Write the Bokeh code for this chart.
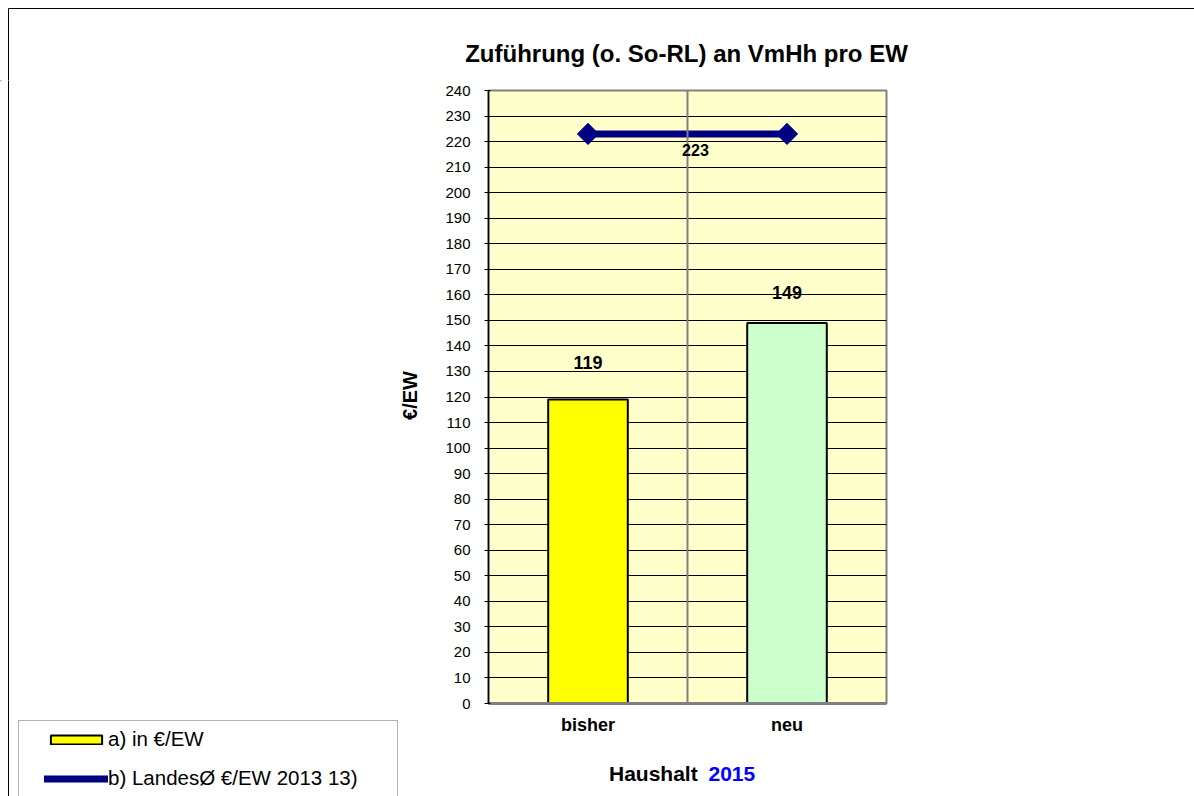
from bokeh.plotting import figure
from bokeh.layouts import row, column
from bokeh.models import (FactorRange, Range1d, Label, Span, BoxAnnotation, Legend,
                          LegendItem, FixedTicker, ColumnDataSource)
from bokeh.embed import file_html
from bokeh.resources import INLINE
import math

# ---- data ----
categories = ["bisher", "neu"]
values = [119, 149]
bar_colors = ["#FFFF00", "#CCFFCC"]
landes_avg = [223, 223]
y_ticks = list(range(0, 250, 10))
title_text = "Zuführung (o. So-RL) an VmHh pro EW"
y_title = "€/EW"
x_title_a = "Haushalt "
x_title_b = "2015"
legend_a = "a) in €/EW"
legend_b = "b) LandesØ €/EW 2013 13)"

FONT = "Liberation Sans"
NAVY = "#000080"

TOTAL_W, TOTAL_H = 1194, 796
LEFT_W = 440
TOP_H = 80
MAIN_W = TOTAL_W - LEFT_W
BOTTOM_H = 53
MAIN_H = TOTAL_H - TOP_H - BOTTOM_H      # 663
FRAME_L, FRAME_W = 48, 398                # inside the main figure
FRAME_R = MAIN_W - FRAME_L - FRAME_W


def strip(x0, x1, y0, y1, **kw):
    """Blank figure whose data coordinates are page pixels."""
    f = figure(x_range=Range1d(x0, x1), y_range=Range1d(y1, y0),
               x_axis_location=None, y_axis_location=None,
               output_backend="svg", toolbar_location=None,
               background_fill_color="white", border_fill_color="white", **kw)
    f.outline_line_color = None
    f.grid.visible = False
    return f


# ---------- top strip: outer frame + title ----------
top = strip(0, TOTAL_W, 0, TOP_H, width=TOTAL_W, height=TOP_H, min_border=0)
top.segment(x0=[8, 8], y0=[8, 8], x1=[TOTAL_W + 20, 8], y1=[8, TOP_H + 20],
            line_color="black", line_width=1)
top.add_layout(Label(x=686, y=53, text=title_text, text_align="center",
                     text_baseline="middle", text_font=FONT, text_font_size="24px",
                     text_font_style="bold", text_color="black"))

# ---------- left strip: outer frame, y title, legend ----------
left = strip(0, LEFT_W, TOP_H, TOTAL_H, width=LEFT_W, height=TOTAL_H - TOP_H, min_border=0)
left.segment(x0=[8], y0=[TOP_H - 20], x1=[8], y1=[TOTAL_H + 20],
             line_color="black", line_width=1)
left.add_layout(BoxAnnotation(left=18, right=397, top=720, bottom=TOTAL_H + 50,
                              fill_color="white", fill_alpha=1,
                              line_color="black", line_width=1))
left.add_layout(Label(x=409, y=395, text=y_title, angle=math.pi / 2,
                      text_align="center", text_baseline="middle", text_font=FONT,
                      text_font_size="20px", text_font_style="bold", text_color="black"))
# legend-only renderers (placed far outside the visible range)
lg_bar = left.vbar(x=[-5000], top=[-5000], bottom=[-5001], width=1,
                   fill_color=bar_colors[0], line_color="black", line_width=2)
lg_line = left.line(x=[-5000, -4999], y=[-5000, -5000], line_color=NAVY, line_width=7,
                    line_cap="round")
lg_mark = left.scatter(x=[-5000], y=[-5000], marker="diamond", size=8,
                       fill_color=NAVY, line_color=NAVY)
legend = Legend(items=[LegendItem(label=legend_a, renderers=[lg_bar]),
                       LegendItem(label=legend_b, renderers=[lg_line, lg_mark])],
                location=(44, 6), padding=0, margin=0, spacing=15,
                glyph_width=64, glyph_height=11, label_height=20, label_standoff=0,
                label_text_font=FONT, label_text_font_size="20.5px",
                label_text_color="black", border_line_color=None,
                background_fill_alpha=0)
left.add_layout(legend, "center")

# ---------- main chart ----------
p = figure(x_range=FactorRange(*categories), y_range=Range1d(0, 240),
           frame_width=FRAME_W, frame_height=613,
           min_border_left=FRAME_L, min_border_right=FRAME_R,
           min_border_top=10, min_border_bottom=MAIN_H - 10 - 613,
           output_backend="svg", toolbar_location=None,
           background_fill_color="#FFFFCC", border_fill_color="white")
p.outline_line_color = "#808080"
p.outline_line_width = 2

p.xgrid.grid_line_color = None
p.ygrid.ticker = FixedTicker(ticks=y_ticks)
p.ygrid.grid_line_color = "black"
p.ygrid.grid_line_width = 1

p.yaxis.ticker = FixedTicker(ticks=y_ticks)
p.yaxis.axis_line_color = "black"
p.yaxis.axis_line_width = 1.5
p.yaxis.major_tick_out = 4
p.yaxis.major_tick_in = 2
p.yaxis.major_tick_line_color = "black"
p.yaxis.minor_tick_line_color = None
p.yaxis.major_label_text_font = FONT
p.yaxis.major_label_text_font_size = "15px"
p.yaxis.major_label_text_color = "black"
p.yaxis.major_label_standoff = 14

p.xaxis.axis_line_color = "#808080"
p.xaxis.axis_line_width = 3
p.xaxis.major_tick_line_color = None
p.xaxis.major_label_text_font = FONT
p.xaxis.major_label_text_font_size = "18px"
p.xaxis.major_label_text_font_style = "bold"
p.xaxis.major_label_text_color = "black"
p.xaxis.major_label_standoff = 5

p.add_layout(Span(location=1, dimension="height", line_color="#808080", line_width=2))

src = ColumnDataSource(dict(x=categories, top=values, color=bar_colors))
p.vbar(x="x", top="top", width=0.4, source=src, fill_color="color",
       line_color="black", line_width=2)

p.line(x=categories, y=landes_avg, line_color=NAVY, line_width=7)
p.scatter(x=categories, y=landes_avg, marker="square", angle=math.pi / 4, size=15,
          fill_color=NAVY, line_color=NAVY)

bar_label_off = [14.7, 11.9]
for i, v in enumerate(values):
    p.add_layout(Label(x=i + 0.5, y=v + bar_label_off[i], text=str(v),
                       text_align="center", text_baseline="middle",
                       text_font=FONT, text_font_size="18px", text_font_style="bold",
                       text_color="black"))
p.add_layout(Label(x=1.04, y=landes_avg[0] - 6.1, text=str(landes_avg[0]),
                   text_align="center", text_baseline="middle",
                   text_font=FONT, text_font_size="16px", text_font_style="bold",
                   text_color="black"))

# ---------- bottom strip: x title (frame geometry identical to the main chart) ----------
bottom = strip(LEFT_W + FRAME_L, LEFT_W + FRAME_L + FRAME_W, TOTAL_H - BOTTOM_H, TOTAL_H,
               frame_width=FRAME_W, frame_height=BOTTOM_H,
               min_border_left=FRAME_L, min_border_right=FRAME_R,
               min_border_top=0, min_border_bottom=0)
bottom.add_layout(Label(x=703, y=773, text=x_title_a, text_align="right",
                        text_baseline="middle", text_font=FONT, text_font_size="21px",
                        text_font_style="bold", text_color="black"))
bottom.add_layout(Label(x=708, y=773, text=x_title_b, text_align="left",
                        text_baseline="middle", text_font=FONT, text_font_size="21px",
                        text_font_style="bold", text_color="#0000FF"))

layout = column(top, row(left, column(p, bottom, spacing=0), spacing=0), spacing=0)
open("out.html", "w").write(file_html(layout, INLINE))
